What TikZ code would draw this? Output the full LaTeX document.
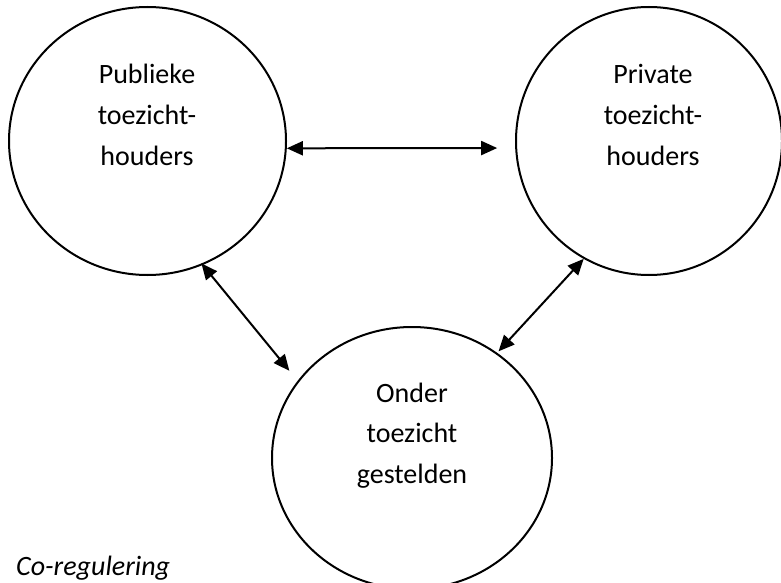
\documentclass[tikz,border=0pt]{standalone}
\usepackage{fontspec}
\setmainfont{Carlito}
\usetikzlibrary{shapes.geometric,arrows.meta}
\tikzset{
  circ/.style={draw=black, line width=2pt, ellipse, inner sep=0pt},
  lbl/.style={anchor=base, inner sep=0pt, font=\fontsize{28}{34}\selectfont},
  link/.style={{Triangle[length=16pt,width=14pt]}-{Triangle[length=16pt,width=14pt]}, line width=2pt},
}
\begin{document}
\begin{tikzpicture}[x=1pt,y=-1pt]
\useasboundingbox (0,0) rectangle (781,583);
\clip (0,0) rectangle (781,583);
% circles
\node[circ, minimum width=277pt, minimum height=268pt] (L) at (147.5,141) {};
\node[circ, minimum width=266pt, minimum height=268pt] (R) at (649,141) {};
\node[circ, minimum width=280pt, minimum height=262pt] (B) at (412,458) {};
% texts
\node[lbl] (l1) at (147,83.3) {Publieke};
\node[lbl] (l2) at (147,124.3) {toezicht-};
\node[lbl] (l3) at (147,165.5) {houders};
\node[lbl] (r1) at (653,83.3) {Private};
\node[lbl] (r2) at (653,124.3) {toezicht-};
\node[lbl] (r3) at (653,165.5) {houders};
\node[lbl] (b1) at (412,402) {Onder};
\node[lbl] (b2) at (412,442.5) {toezicht};
\node[lbl] (b3) at (412,483) {gestelden};
\node[lbl, anchor=base west, font=\fontsize{28}{34}\selectfont\itshape] (cap) at (16,575) {Co-regulering};
% connectors
\draw[link, shorten >=18pt] (L.-3.3) -- (R.183);
\draw[link, shorten <=-2pt, shorten >=13pt] (L.-66.4) -- (B.146.8);
\draw[link, shorten >=2pt] (R.241.3) -- (B.51.5);
\end{tikzpicture}
\end{document}
